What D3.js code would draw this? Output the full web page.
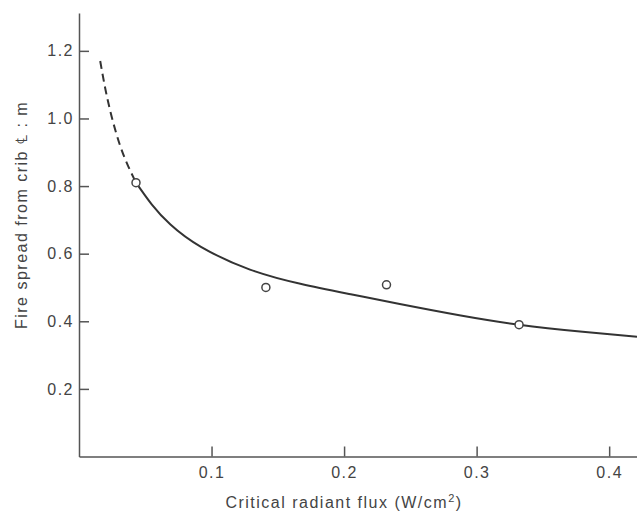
<!DOCTYPE html>
<html>
<head>
<meta charset="utf-8">
<script src="https://cdn.jsdelivr.net/npm/d3@7"></script>
<style>
  body { margin: 0; background: #fff; }
  text { font-family: "Liberation Sans", Arial, sans-serif; fill: #444; }
</style>
</head>
<body>
<div id="chart"></div>
<script>
const width = 637;
const height = 513;

// Measured points (flux, spread)
const pointFlux = [0.043, 0.141, 0.232, 0.332];
const pointSpread = [0.81, 0.50, 0.508, 0.39];

// Fitted curve: dashed (extrapolated) part and solid part
const dashedFlux = [0.016, 0.020, 0.025, 0.031, 0.037, 0.043];
const dashedSpread = [1.17, 1.085, 1.0, 0.92, 0.86, 0.81];
const solidFlux = [0.043, 0.055, 0.069, 0.092, 0.129, 0.167, 0.205, 0.242, 0.288, 0.332, 0.38, 0.421];
const solidSpread = [0.81, 0.745, 0.686, 0.62, 0.553, 0.511, 0.48, 0.451, 0.417, 0.39, 0.369, 0.354];

const xTicks = [0.1, 0.2, 0.3, 0.4];
const yTicks = [0.2, 0.4, 0.6, 0.8, 1.0, 1.2];

const fontSize = 16;
const spacing = 1.5;

const svg = d3.select('#chart').append('svg')
  .attr('width', width)
  .attr('height', height);

const x = d3.scaleLinear().domain([0, 0.421]).range([79, 637]);
const y = d3.scaleLinear().domain([0, 1.312]).range([456.5, 13]);

const styleAxis = g => {
  g.selectAll('path, line').attr('stroke', '#555').attr('stroke-width', 1.5);
  g.selectAll('text')
    .attr('font-size', fontSize)
    .attr('letter-spacing', spacing)
    .attr('fill', '#444');
};

// Axes, ticks pointing inwards
svg.append('g')
    .attr('transform', `translate(0, ${y(0)})`)
    .call(d3.axisBottom(x).tickValues(xTicks).tickFormat(d3.format('.1f'))
      .tickSizeInner(-10).tickSizeOuter(0).tickPadding(10))
    .call(styleAxis);

svg.append('g')
    .attr('transform', `translate(${x(0)}, 0)`)
    .call(d3.axisLeft(y).tickValues(yTicks).tickFormat(d3.format('.1f'))
      .tickSizeInner(-10).tickSizeOuter(0).tickPadding(5))
    .call(styleAxis);

// Axis titles
const xTitle = svg.append('text')
    .attr('x', 344)
    .attr('y', 508)
    .attr('text-anchor', 'middle')
    .attr('font-size', fontSize)
    .attr('letter-spacing', spacing);
xTitle.append('tspan').text('Critical radiant flux (W/cm');
xTitle.append('tspan').attr('dy', -6).attr('font-size', 11).text('2');
xTitle.append('tspan').attr('dy', 6).text(')');

svg.append('text')
    .attr('transform', 'translate(27, 215) rotate(-90)')
    .attr('text-anchor', 'middle')
    .attr('font-size', fontSize)
    .attr('letter-spacing', spacing)
    .text('Fire spread from crib \u2104 : m');

// Curve
const line = d3.line()
  .x(d => x(d[0]))
  .y(d => y(d[1]))
  .curve(d3.curveNatural);

svg.append('path')
    .datum(d3.zip(dashedFlux, dashedSpread))
    .attr('d', line)
    .attr('fill', 'none')
    .attr('stroke', '#333')
    .attr('stroke-width', 2)
    .attr('stroke-dasharray', '8,5');

svg.append('path')
    .datum(d3.zip(solidFlux, solidSpread))
    .attr('d', line)
    .attr('fill', 'none')
    .attr('stroke', '#333')
    .attr('stroke-width', 2);

// Open circle markers
svg.append('g')
  .selectAll('circle')
  .data(d3.zip(pointFlux, pointSpread))
  .join('circle')
    .attr('cx', d => x(d[0]))
    .attr('cy', d => y(d[1]))
    .attr('r', 4)
    .attr('fill', '#fff')
    .attr('stroke', '#444')
    .attr('stroke-width', 1.5);
</script>
</body>
</html>
